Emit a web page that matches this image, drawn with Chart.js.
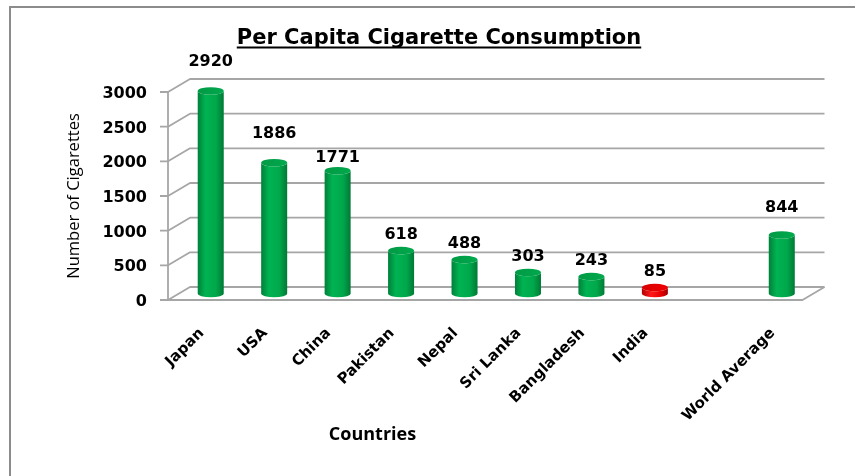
<!DOCTYPE html>
<html>
<head>
<meta charset="utf-8">
<script src="https://cdn.jsdelivr.net/npm/chart.js@4.4.0/dist/chart.umd.min.js"></script>
<style>
html, body { margin: 0; padding: 0; background: #fff; }
#wrap { position: relative; width: 859px; height: 476px; overflow: hidden; }
#frame { position: absolute; left: 9px; top: 6px; width: 844px; height: 500px;
         border-left: 2px solid #8c8c8c; border-top: 2px solid #8c8c8c; }
canvas { position: absolute; left: 0; top: 0; }
</style>
</head>
<body>
<div id="wrap">
  <div id="frame"></div>
  <canvas id="chart" width="859" height="476"></canvas>
</div>
<script>
// data
const countries = ['Japan', 'USA', 'China', 'Pakistan', 'Nepal', 'Sri Lanka', 'Bangladesh', 'India', '', 'World Average'];
const cigarettes = [2920, 1886, 1771, 618, 488, 303, 243, 85, null, 844];
const yTicks = [0, 500, 1000, 1500, 2000, 2500, 3000];
const highlight = 'India';

// half depth of the fake 3d box (mid plane -> front / back)
const dx = 11, dy = 6.5;
// excel labels were nudged by hand, most sit 16px above the cap
const labelRaise = { 'Japan': 29, 'USA': 29, 'China': 12.5, 'World Average': 27.5 };

const box3d = {
    id: 'box3d',
    beforeDatasetsDraw(chart) {
        const ctx = chart.ctx, a = chart.chartArea, y = chart.scales.y;
        ctx.save();
        ctx.strokeStyle = '#a6a6a6';
        ctx.lineWidth = 1.8;
        ctx.lineJoin = 'round';
        yTicks.forEach(function(v) {
            const py = y.getPixelForValue(v);
            ctx.beginPath();
            ctx.moveTo(a.left - dx - 8, py + dy);
            ctx.lineTo(a.left - dx, py + dy);
            ctx.lineTo(a.left + dx, py - dy);
            ctx.lineTo(a.right + dx, py - dy);
            ctx.stroke();
        });
        // front axis and floor edge
        ctx.beginPath();
        ctx.moveTo(a.left - dx, y.getPixelForValue(yTicks[yTicks.length - 1]) + dy);
        ctx.lineTo(a.left - dx, a.bottom + dy);
        ctx.lineTo(a.right - dx, a.bottom + dy);
        ctx.lineTo(a.right + dx, a.bottom - dy);
        ctx.stroke();
        ctx.restore();
    },
    afterDatasetsDraw(chart) {
        const ctx = chart.ctx;
        const meta = chart.getDatasetMeta(0);
        ctx.save();
        meta.data.forEach(function(bar, i) {
            if (cigarettes[i] == null) return;
            const p = bar.getProps(['x', 'y', 'base', 'width'], true);
            const x = p.x, top = p.y, base = p.base, r = p.width / 2, ry = 3.8;
            const red = countries[i] === highlight;
            const g = ctx.createLinearGradient(x - r, 0, x + r, 0);
            if (red) {
                g.addColorStop(0, '#b00000');
                g.addColorStop(0.35, '#ff1a1a');
                g.addColorStop(0.75, '#e60000');
                g.addColorStop(1, '#a00000');
            } else {
                g.addColorStop(0, '#00803a');
                g.addColorStop(0.3, '#00b352');
                g.addColorStop(0.7, '#00a84b');
                g.addColorStop(1, '#007a35');
            }
            ctx.beginPath();
            ctx.moveTo(x - r, top);
            ctx.lineTo(x - r, base);
            ctx.ellipse(x, base, r, ry, 0, Math.PI, 0, true);
            ctx.lineTo(x + r, top);
            ctx.ellipse(x, top, r, ry, 0, 0, Math.PI, false);
            ctx.closePath();
            ctx.fillStyle = g;
            ctx.fill();
            // cap
            const c = ctx.createLinearGradient(x - r, 0, x + r, 0);
            if (red) {
                c.addColorStop(0, '#d80000');
                c.addColorStop(1, '#f00000');
            } else {
                c.addColorStop(0, '#009a45');
                c.addColorStop(1, '#00a94c');
            }
            ctx.beginPath();
            ctx.ellipse(x, top, r, ry, 0, 0, Math.PI * 2);
            ctx.fillStyle = c;
            ctx.fill();

            ctx.fillStyle = '#000';
            ctx.font = 'bold 16px "DejaVu Sans"';
            ctx.textAlign = 'center';
            ctx.textBaseline = 'middle';
            const lift = labelRaise[countries[i]] || 16;
            ctx.fillText(String(cigarettes[i]), x, top - lift);
        });
        ctx.restore();
    },
    afterDraw(chart) {
        const ctx = chart.ctx;
        ctx.save();
        ctx.fillStyle = '#000';
        // title, underlined
        ctx.font = 'bold 21px "DejaVu Sans"';
        ctx.textAlign = 'center';
        ctx.textBaseline = 'alphabetic';
        const title = 'Per Capita Cigarette Consumption';
        ctx.fillText(title, 439, 44);
        const w = ctx.measureText(title).width;
        ctx.fillRect(439 - w / 2, 46.5, w, 2);
        // axis titles
        ctx.font = 'bold 18px "Open Sans"';
        ctx.fillText('Countries', 372.5, 440);
        ctx.translate(79, 196);
        ctx.rotate(-Math.PI / 2);
        ctx.font = '16.5px "Open Sans"';
        ctx.fillText('Number of Cigarettes', 0, 0);
        ctx.restore();
    }
};

new Chart(document.getElementById('chart'), {
    type: 'bar',
    data: {
        labels: countries,
        datasets: [{
            data: cigarettes,
            backgroundColor: 'rgba(0,0,0,0)',
            borderWidth: 0,
            categoryPercentage: 1,
            barPercentage: 0.41
        }]
    },
    options: {
        responsive: false,
        animation: false,
        events: [],
        layout: { padding: { left: 10, top: 85.5, right: 45.5, bottom: 32.5 } },
        plugins: {
            legend: { display: false },
            tooltip: { enabled: false }
        },
        scales: {
            x: {
                grid: { display: false, drawTicks: false },
                border: { display: false },
                ticks: {
                    autoSkip: false,
                    minRotation: 45,
                    maxRotation: 45,
                    padding: 31,
                    labelOffset: -9,
                    color: '#000',
                    font: { family: 'DejaVu Sans', weight: 'bold', size: 15 }
                },
                afterFit: function(scale) { scale.height = 150; }
            },
            y: {
                min: 0,
                max: 3000,
                grid: { display: false, drawTicks: false },
                border: { display: false },
                afterBuildTicks: function(scale) {
                    scale.ticks = yTicks.map(function(v) { return { value: v }; });
                },
                ticks: {
                    padding: 32,
                    labelOffset: 8.5,
                    color: '#000',
                    font: { family: 'DejaVu Sans', weight: 'bold', size: 16 },
                    callback: function(v) { return String(v); }
                },
                afterFit: function(scale) { scale.width = 169; }
            }
        }
    },
    plugins: [box3d]
});
</script>
</body>
</html>
